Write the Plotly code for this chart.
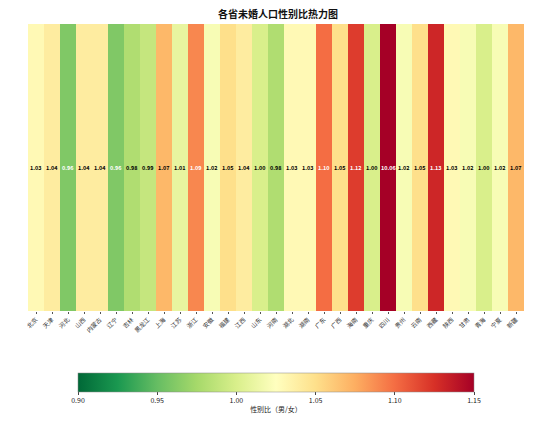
import plotly.graph_objects as go

provinces = ["北京", "天津", "河北", "山西", "内蒙古", "辽宁", "吉林", "黑龙江",
             "上海", "江苏", "浙江", "安徽", "福建", "江西", "山东", "河南",
             "湖北", "湖南", "广东", "广西", "海南", "重庆", "四川", "贵州",
             "云南", "西藏", "陕西", "甘肃", "青海", "宁夏", "新疆"]
ratios = [1.03, 1.04, 0.96, 1.04, 1.04, 0.96, 0.98, 0.99,
          1.07, 1.01, 1.09, 1.02, 1.05, 1.04, 1.00, 0.98,
          1.03, 1.03, 1.10, 1.05, 1.12, 1.00, 10.06, 1.02,
          1.05, 1.13, 1.03, 1.02, 1.00, 1.02, 1.07]
cbar_ticks = [0.90, 0.95, 1.00, 1.05, 1.10, 1.15]

font = "Noto Sans CJK SC"

fig = go.Figure(go.Heatmap(
    z=[ratios],
    x=provinces,
    y=[0],
    colorscale="RdYlGn_r",
    zmin=0.90,
    zmax=1.15,
    colorbar=dict(
        orientation="h",
        lenmode="pixels", len=396,
        thickness=19,
        xpad=0, ypad=0,
        x=0.5, xanchor="center",
        y=-0.216, yanchor="top",
        tickvals=cbar_ticks,
        ticktext=[f"{t:.2f}" for t in cbar_ticks],
        ticks="outside", ticklen=3,
        tickfont=dict(size=7, color="#222"),
        title=dict(text="性别比（男/女）", side="bottom", font=dict(size=7, color="#222")),
        outlinewidth=0.5, outlinecolor="#888",
    ),
    hovertemplate="%{x}: %{z:.2f}<extra></extra>",
))

# value labels, white on the dark ends of the scale
for p, v in zip(provinces, ratios):
    light = v <= 0.96 or v >= 1.09
    fig.add_annotation(
        x=p, y=0, text=f"<b>{v:.2f}</b>", showarrow=False,
        font=dict(size=5.5, color="white" if light else "black", family=font),
    )

fig.update_layout(
    width=556, height=439,
    margin=dict(l=28, r=32, t=24, b=128),
    paper_bgcolor="white",
    plot_bgcolor="white",
    font=dict(family=font),
    title=dict(text="<b>各省未婚人口性别比热力图</b>", x=0.5, xanchor="center",
               y=0.966, yanchor="middle", font=dict(size=10, color="#111")),
)
fig.update_xaxes(tickangle=-45, tickfont=dict(size=6, color="#333"),
                 ticks="outside", ticklen=2, tickcolor="#555", showgrid=False,
                 automargin=False)
fig.update_yaxes(showticklabels=False, ticks="", showgrid=False,
                 range=[-0.5, 0.5], automargin=False)

fig.write_html("out.html", config={"displayModeBar": False},
               post_script="document.body.style.margin='0';")
